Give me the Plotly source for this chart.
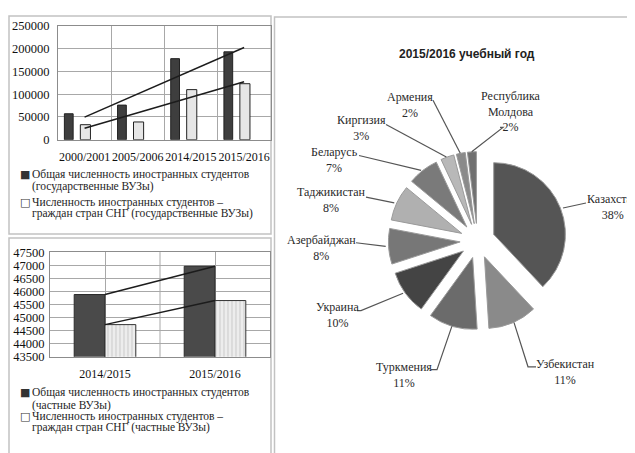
import numpy as np
import plotly.graph_objects as go

# ---------------- data ----------------
years_state = ["2000/2001", "2005/2006", "2014/2015", "2015/2016"]
state_total = [57000, 76000, 178000, 193000]
state_cis = [33000, 39000, 110000, 123000]

years_private = ["2014/2015", "2015/2016"]
private_total = [45880, 46960]
private_cis = [44730, 45650]

countries = ["Казахстан", "Узбекистан", "Туркмения", "Украина", "Азербайджан",
             "Таджикистан", "Беларусь", "Киргизия", "Армения", "Республика Молдова"]
country_labels = ["Казахстан", "Узбекистан", "Туркмения", "Украина", "Азербайджан",
                  "Таджикистан", "Беларусь", "Киргизия", "Армения", "Республика<br>Молдова"]
shares = [38, 11, 11, 10, 8, 8, 7, 3, 2, 2]

name_state_total = "Общая численность иностранных студентов<br>(государственные ВУЗы)"
name_state_cis = "Численность иностранных студентов –<br>граждан стран СНГ (государственные ВУЗы)"
name_priv_total = "Общая численность иностранных студентов<br>(частные ВУЗы)"
name_priv_cis = "Численность иностранных студентов –<br>граждан стран СНГ (частные ВУЗы)"
pie_title = "2015/2016 учебный год"

# ---------------- style / layout helpers ----------------
W, H = 635, 453
OFF = 8  # the page places the figure 8px from the window's top-left corner

def px(x):
    return (x - OFF) / W
def py(y):
    return 1 - (y - OFF) / H

SERIF = "Liberation Serif"
GRID = "#a8a8a8"
slice_colors = ["#555555", "#8a8a8a", "#6b6b6b", "#444444", "#777777",
                "#b0b0b0", "#7a7a7a", "#b8b8b8", "#8a8a8a", "#707070"]

fig = go.Figure()

# ---- top bar chart ----
fig.add_trace(go.Bar(x=years_state, y=state_total, name=name_state_total,
                     xaxis="x", yaxis="y", width=0.165, offset=-0.38,
                     marker=dict(color="#3e3e3e", line=dict(color="#222222", width=1))))
fig.add_trace(go.Bar(x=years_state, y=state_cis, name=name_state_cis,
                     xaxis="x", yaxis="y", width=0.19, offset=-0.08,
                     marker=dict(color="#e6e6e6", line=dict(color="#222222", width=1))))
idx = np.arange(len(years_state))
for vals in (state_total, state_cis):
    k, b = np.polyfit(idx, vals, 1)
    fig.add_trace(go.Scatter(x=[years_state[0], years_state[-1]],
                             y=[b, k * idx[-1] + b], mode="lines",
                             line=dict(color="#1c1c1c", width=1.5),
                             xaxis="x", yaxis="y", hoverinfo="skip"))

# ---- bottom bar chart ----
fig.add_trace(go.Bar(x=years_private, y=private_total, name=name_priv_total,
                     xaxis="x2", yaxis="y2", width=0.28, offset=-0.28,
                     marker=dict(color="#4a4a4a", line=dict(color="#2a2a2a", width=1))))
fig.add_trace(go.Bar(x=years_private, y=private_cis, name=name_priv_cis,
                     xaxis="x2", yaxis="y2", width=0.28, offset=0.0,
                     marker=dict(color="#ededed",
                                 pattern=dict(shape="|", fgcolor="#b4b4b4", bgcolor="#ededed",
                                              size=4, solidity=0.3),
                                 line=dict(color="#333333", width=1))))
idx2 = np.arange(len(years_private))
for vals in (private_total, private_cis):
    k, b = np.polyfit(idx2, vals, 1)
    fig.add_trace(go.Scatter(x=[years_private[0], years_private[-1]],
                             y=[b, k * idx2[-1] + b], mode="lines",
                             line=dict(color="#1c1c1c", width=1.5),
                             xaxis="x2", yaxis="y2", hoverinfo="skip"))

# ---- pie ----
PULL = 0.243
CX, CY, R = 477.5, 241, 74  # pie centre / radius in window px (layout)
half = R * (1 + PULL)
fig.add_trace(go.Pie(labels=countries, values=shares, sort=False, direction="clockwise",
                     rotation=0, pull=PULL, textinfo="none",
                     marker=dict(colors=slice_colors, line=dict(color="#9a9a9a", width=1)),
                     domain=dict(x=[px(CX - half), px(CX + half)],
                                 y=[py(CY + half), py(CY - half)])))

# pie labels (positions are layout choices), leader tips computed from the data
label_pos = [(585, 206.5, "left"), (565, 376.5, "center"), (403.5, 379, "center"),
             (337, 317.5, "center"), (321, 248.5, "center"), (331, 199, "center"),
             (335, 157.5, "center"), (361, 125, "center"), (410, 100.5, "center"),
             (511, 107.5, "center")]
leader_pts = [[(586, 202)], [(536, 371), (528, 371)], [(431, 374), (437, 374)],
              [(357, 313), (361, 313)], [(356, 243)], [(366, 196)], [(359, 153)],
              [(386, 121)], [(433, 96)], [(500, 124), (503, 124)]]

annotations = []
leader_shapes = []
total = float(sum(shares))
cum = 0.0
for i, (lab, v) in enumerate(zip(country_labels, shares)):
    mid = (cum + v / 2) / total * 2 * np.pi
    cum += v
    tx = CX + (R + PULL * R) * np.sin(mid)
    ty = CY - (R + PULL * R) * np.cos(mid)
    pts = leader_pts[i] + [(tx, ty)]
    path = "M " + " L ".join(f"{px(x):.5f},{py(y):.5f}" for x, y in pts)
    leader_shapes.append(dict(type="path", path=path, xref="paper", yref="paper",
                              line=dict(color="#555555", width=1.2), layer="above"))
    lx, ly, anc = label_pos[i]
    annotations.append(dict(text=f"{lab}<br>{v}%", x=px(lx), y=py(ly), xref="paper",
                            yref="paper", showarrow=False, xanchor=anc, yanchor="middle",
                            align="center", font=dict(family=SERIF, size=12, color="#2a2a2a")))

annotations.append(dict(text=f"<b>{pie_title}</b>", x=px(467), y=py(48), xref="paper", yref="paper",
                        showarrow=False, xanchor="center", yanchor="middle",
                        font=dict(family="Liberation Sans", size=12, color="#222222")))

# legend rows (symbol glyph + text lines)
legend_rows = [
    ("■", name_state_total, 173, 11.5),
    ("□", name_state_cis, 201, 11.5),
    ("■", name_priv_total, 398, 13),
    ("□", name_priv_cis, 422, 12),
]
for sym, name, y0, step in legend_rows:
    annotations.append(dict(text=sym, x=px(25), y=py(y0), xref="paper", yref="paper",
                            showarrow=False, xanchor="center", yanchor="middle",
                            font=dict(family="DejaVu Sans", size=11, color="#333333")))
    for j, line in enumerate(name.split("<br>")):
        annotations.append(dict(text=line, x=px(30), y=py(y0 + j * step), xref="paper",
                                yref="paper", showarrow=False, xanchor="left", yanchor="middle",
                                font=dict(family=SERIF, size=11.5, color="#1e1e1e")))

# panels
panel_line = dict(color="#c2c2c2", width=1.5)
shapes = [
    dict(type="rect", xref="paper", yref="paper", x0=px(9), x1=px(271), y0=py(234), y1=py(9),
         line=panel_line, fillcolor="white", layer="below"),
    dict(type="rect", xref="paper", yref="paper", x0=px(9), x1=px(271), y0=-0.05, y1=py(238),
         line=panel_line, fillcolor="white", layer="below"),
    dict(type="rect", xref="paper", yref="paper", x0=px(274.5), x1=1.05, y0=-0.05, y1=py(10),
         line=panel_line, fillcolor="white", layer="below"),
    # middle category-boundary gridline of the lower chart
    dict(type="line", xref="x2", yref="y2 domain", x0=0.5, x1=0.5, y0=0, y1=1,
         line=dict(color=GRID, width=1), layer="below"),
] + leader_shapes

xfont = dict(family=SERIF, size=12, color="#111111")
fig.update_layout(
    width=W, height=H, autosize=False,
    margin=dict(l=0, r=0, t=0, b=0),
    paper_bgcolor="white", plot_bgcolor="white",
    barmode="overlay", showlegend=False,
    xaxis=dict(domain=[px(58), px(270.7)], anchor="y", type="category", range=[-0.5, 3.5],
               tickson="boundaries", showgrid=True, gridcolor=GRID, showline=True,
               linecolor="#8c8c8c", mirror=True, ticks="", tickangle=0, tickfont=xfont,
               ticklabelstandoff=6),
    yaxis=dict(domain=[py(136.7), py(19.2)], anchor="x", range=[0, 250000], dtick=50000,
               tickformat="d", showgrid=True, gridcolor=GRID, showline=True, linecolor="#8c8c8c",
               mirror=True, zeroline=False, tickfont=dict(family=SERIF, size=12.5, color="#111111"),
               ticklabelstandoff=5),
    xaxis2=dict(domain=[px(50), px(270)], anchor="y2", type="category", range=[-0.5, 1.5],
                showgrid=True, gridcolor=GRID, showline=True, linecolor="#8c8c8c", mirror=True,
                ticks="", tickangle=0, tickfont=xfont, ticklabelstandoff=6),
    yaxis2=dict(domain=[py(360.7), py(252.7)], anchor="x2", range=[43500, 47500], dtick=500,
                tickformat="d", showgrid=True, gridcolor=GRID, showline=True, linecolor="#8c8c8c",
                mirror=True, zeroline=False, tickfont=dict(family=SERIF, size=12.5, color="#111111"),
                ticklabelstandoff=2),
    shapes=shapes,
    annotations=annotations,
)

fig.write_html("out.html")
